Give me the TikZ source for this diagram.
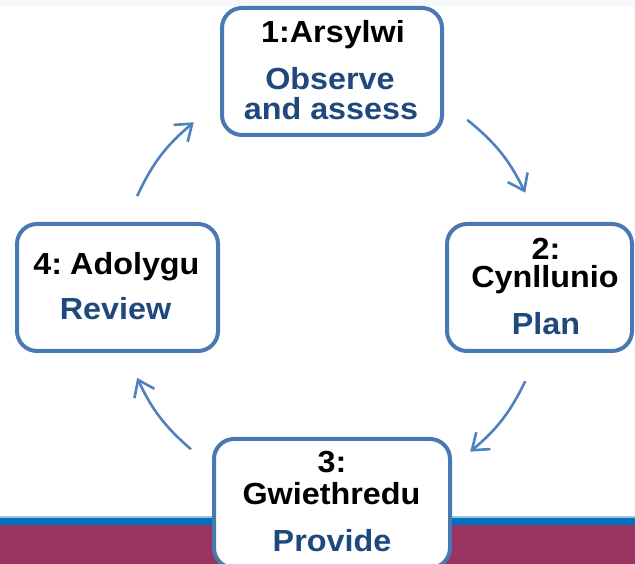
\documentclass[tikz,border=0pt]{standalone}
\usepackage{fontspec}
\setmainfont{Liberation Sans}[FakeStretch=1.06]
\usetikzlibrary{arrows.meta,calc}
\definecolor{boxblue}{HTML}{4A78B0}
\definecolor{arrblue}{HTML}{4F81BD}
\definecolor{txtblue}{HTML}{1F497D}
\definecolor{topgray}{HTML}{F7F8FA}
\definecolor{linelight}{HTML}{9DC3E6}
\definecolor{bandblue}{HTML}{0070C0}
\definecolor{maroon}{HTML}{993362}
\tikzset{
  stagebox/.style={draw=boxblue, line width=4pt, fill=white, rounded corners=20pt, inner sep=0pt},
  welsh/.style={anchor=base, inner sep=0pt, text=black, font=\bfseries\fontsize{30.5}{36}\selectfont},
  english/.style={anchor=base, inner sep=0pt, text=txtblue, font=\bfseries\fontsize{30.5}{36}\selectfont},
  cyclearrow/.style={draw=arrblue, line width=2.6pt, -{Straight Barb[length=15pt,width=22pt,line width=2.6pt]}}
}
\begin{document}
\begin{tikzpicture}[x=1pt,y=1pt]
\useasboundingbox (0,0) rectangle (635,564);
\clip (0,0) rectangle (635,564);
% background bands
\fill[topgray] (0,557) rectangle (635,564);
\fill[maroon] (0,0) rectangle (635,39);
\fill[bandblue] (0,39) rectangle (635,46);
\fill[linelight] (0,46) rectangle (635,48);
% boxes
\node[stagebox, minimum width=220pt, minimum height=127pt] (b1) at (332,492.5) {};
\node[stagebox, minimum width=185pt, minimum height=127pt] (b2) at (539.5,276.5) {};
\node[stagebox, minimum width=236pt, minimum height=129pt] (b3) at (332,60.5) {};
\node[stagebox, minimum width=201pt, minimum height=127pt] (b4) at (117.5,276.5) {};
% texts box 1
\node[welsh] (t1a) at (333,521) {1:Arsylwi};
\node[english] (t1b) at (330,474) {Observe};
\node[english] (t1c) at (331,444) {and assess};
% box 2
\node[welsh] (t2a) at (546,304) {2:};
\node[welsh] (t2b) at (545,276) {Cynllunio};
\node[english] (t2c) at (546,229) {Plan};
% box 3
\node[welsh] (t3a) at (332,91) {3:};
\node[welsh] (t3b) at (331.5,59) {Gwiethredu};
\node[english] (t3c) at (332,12) {Provide};
% box 4
\node[welsh] (t4a) at (116.5,289) {4:\hspace{-4pt} Adolygu};
\node[english] (t4b) at (115.5,244) {Review};
% arrows on a circle round the cycle centre
\coordinate (ctr) at (332,277);
\coordinate (a1s) at ($(ctr)+(155:215)$);
\coordinate (a1e) at ($(ctr)+(130:215)$);
\coordinate (a2s) at ($(ctr)+(51:215)$);
\coordinate (a2e) at ($(ctr)+(26:215)$);
\coordinate (a3s) at ($(ctr)+(-26:215)$);
\coordinate (a3e) at ($(ctr)+(-50:215)$);
\coordinate (a4s) at ($(ctr)+(-131:215)$);
\coordinate (a4e) at ($(ctr)+(-155:215)$);
\draw[cyclearrow] (a1s) to[bend left=12.5] (a1e);
\draw[cyclearrow] (a2s) to[bend left=12.5] (a2e);
\draw[cyclearrow] (a3s) to[bend left=12] (a3e);
\draw[cyclearrow] (a4s) to[bend left=12] (a4e);
\end{tikzpicture}
\end{document}
